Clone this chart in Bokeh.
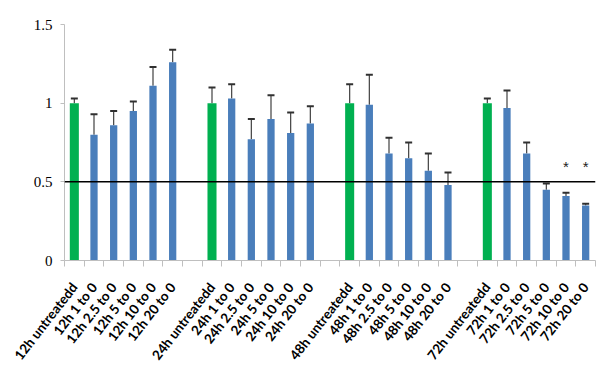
from bokeh.plotting import figure
from bokeh.models import ColumnDataSource, FixedTicker, Whisker, Span, TeeHead
from bokeh.core.properties import value
from bokeh.embed import file_html
from bokeh.resources import INLINE

categories = [
    "12h untreatedd", "12h 1 to 0", "12h 2.5 to 0", "12h 5 to 0", "12h 10 to 0", "12h 20 to 0", "",
    "24h untreatedd", "24h 1 to 0", "24h 2.5 to 0", "24h 5 to 0", "24h 10 to 0", "24h 20 to 0", "",
    "48h untreatedd", "48h 1 to 0", "48h 2.5 to 0", "48h 5 to 0", "48h 10 to 0", "48h 20 to 0", "",
    "72h untreatedd", "72h 1 to 0", "72h 2.5 to 0", "72h 5 to 0", "72h 10 to 0", "72h 20 to 0",
]
values = [
    1.00, 0.80, 0.86, 0.95, 1.11, 1.26, None,
    1.00, 1.03, 0.77, 0.90, 0.81, 0.87, None,
    1.00, 0.99, 0.68, 0.65, 0.57, 0.48, None,
    1.00, 0.97, 0.68, 0.45, 0.41, 0.35,
]
upper_err = [
    1.03, 0.93, 0.95, 1.01, 1.23, 1.34, None,
    1.10, 1.12, 0.90, 1.05, 0.94, 0.98, None,
    1.12, 1.18, 0.78, 0.75, 0.68, 0.56, None,
    1.03, 1.08, 0.75, 0.49, 0.43, 0.36,
]
control = "untreatedd"
star_labels = ["72h 10 to 0", "72h 20 to 0"]
star_level = 0.60
y_ticks = [0, 0.5, 1, 1.5]
y_tick_labels = {0: "0", 0.5: "0.5", 1: "1", 1.5: "1.5"}
reference_level = 0.5

GREEN = "#00b050"
BLUE = "#4a7ebb"

xs, tops, ups, colors, widths = [], [], [], [], []
for i, (c, v, u) in enumerate(zip(categories, values, upper_err)):
    if v is None:
        continue
    xs.append(i)
    tops.append(v)
    ups.append(u)
    is_ctrl = control in c
    colors.append(GREEN if is_ctrl else BLUE)
    widths.append(0.46 if is_ctrl else 0.37)

src = ColumnDataSource(dict(x=xs, top=tops, upper=ups, color=colors, w=widths))

n = len(categories)
p = figure(width=600, height=371, x_range=(-0.5, n - 0.5), y_range=(0, 1.5),
           output_backend="svg", toolbar_location=None,
           min_border_left=64, min_border_right=5, min_border_top=24, min_border_bottom=111)
p.outline_line_color = None
p.xgrid.visible = False
p.ygrid.visible = False
p.background_fill_color = "white"

p.vbar(x="x", top="top", width="w", bottom=0, fill_color="color", line_color=None, source=src)

wh = Whisker(base="x", upper="upper", lower="top", source=src, dimension="height",
             line_color="#404040", line_width=1.2,
             upper_head=TeeHead(size=7, line_color="#303030", line_width=2), lower_head=None)
p.add_layout(wh)

p.add_layout(Span(location=reference_level, dimension="width", line_color="black", line_width=1.5))

sx = [categories.index(s) for s in star_labels]
p.text(x=sx, y=[star_level] * len(sx), text=["*"] * len(sx), text_align="center",
       text_baseline="middle", text_font=value("Liberation Sans"), text_font_size="15px",
       text_color="#222222")

# x axis
centers = list(range(n))
bounds = [i + 0.5 for i in range(-1, n)]
p.xaxis.ticker = FixedTicker(ticks=centers, minor_ticks=bounds)
p.xaxis.major_label_overrides = {i: c for i, c in enumerate(categories)}
p.xaxis.major_tick_line_color = None
p.xaxis.major_tick_out = 0
p.xaxis.major_tick_in = 0
p.xaxis.minor_tick_line_color = "#bfbfbf"
p.xaxis.minor_tick_out = 6
p.xaxis.minor_tick_in = 0
p.xaxis.axis_line_color = "#bfbfbf"
p.xaxis.major_label_orientation = 0.91
p.xaxis.major_label_text_font = "Lato"
p.xaxis.major_label_text_font_style = "bold"
p.xaxis.major_label_text_font_size = "13.5px"
p.xaxis.major_label_text_color = "black"
p.xaxis.major_label_standoff = 18

# y axis
p.yaxis.ticker = FixedTicker(ticks=y_ticks)
p.yaxis.major_label_overrides = y_tick_labels
p.yaxis.minor_tick_line_color = None
p.yaxis.major_tick_line_color = "#bfbfbf"
p.yaxis.major_tick_out = 4
p.yaxis.major_tick_in = 0
p.yaxis.axis_line_color = "#bfbfbf"
p.yaxis.major_label_text_font = "Liberation Serif"
p.yaxis.major_label_text_font_size = "15px"
p.yaxis.major_label_text_color = "black"
p.yaxis.major_label_standoff = 8

open("out.html", "w").write(file_html(p, INLINE))
